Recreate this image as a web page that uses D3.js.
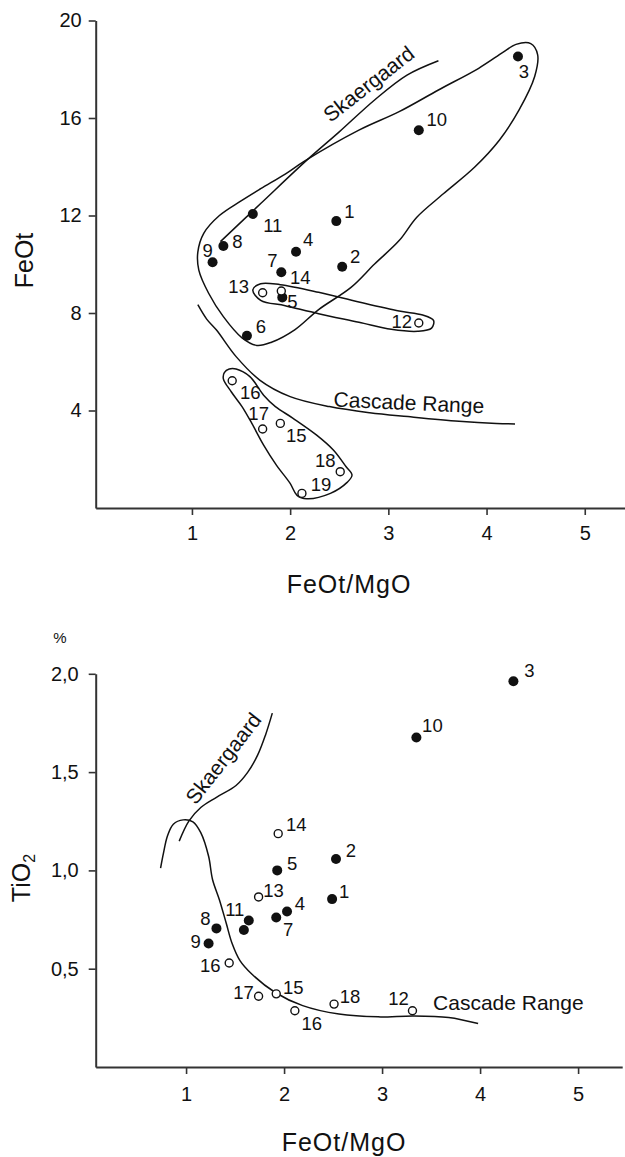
<!DOCTYPE html>
<html>
<head>
<meta charset="utf-8">
<script src="https://cdn.jsdelivr.net/npm/d3@7"></script>
<style>
  body { margin: 0; background: #fff; }
  svg text { font-family: "Liberation Sans", Arial, Helvetica, sans-serif; fill: #111; }
</style>
</head>
<body>
<svg id="fig" width="625" height="1157"></svg>
<script>
// ---------- Upper diagram: FeOt vs FeOt/MgO ----------
const feoIds    = ["1","2","3","4","5","6","7","8","9","10","11","12","13","14","15","16","17","18","19"];
const feoRatio  = [2.47, 2.53, 4.32, 2.06, 1.92, 1.56, 1.91, 1.32, 1.21, 3.31, 1.62, 3.31, 1.72, 1.91, 1.90, 1.41, 1.72, 2.51, 2.12];
const feoTotal  = [11.77, 9.90, 18.52, 10.51, 8.64, 7.07, 9.67, 10.75, 10.08, 15.50, 12.06, 7.59, 8.83, 8.90, 3.47, 5.22, 3.24, 1.49, 0.60];
const feoFilled = [1,1,1,1,1,1,1,1,1,1,1,0,0,0,0,0,0,0,0];

const feoTicksX = [1, 2, 3, 4, 5];
const feoTicksY = [4, 8, 12, 16, 20];

// trend lines and field outlines, [FeOt/MgO, FeOt]
const feoSkaergaard = [[1.29,10.93],[1.70,12.49],[2.17,14.27],[2.50,15.43],[2.86,16.74],[3.19,17.76],[3.51,18.35]];
const feoCascade = [[1.06,8.34],[1.15,7.75],[1.25,7.30],[1.45,6.21],[1.69,5.25],[2.00,4.57],[2.40,4.16],[2.81,3.91],[3.20,3.75],[3.72,3.56],[4.10,3.47],[4.29,3.45]];
const fieldMain = [[2.15,14.24],[2.70,15.50],[3.11,16.26],[3.51,17.15],[3.92,18.04],[4.17,18.70],[4.30,19.02],[4.45,19.05],[4.52,18.60],[4.49,17.70],[4.33,16.32],[4.13,15.09],[3.88,13.99],[3.56,12.89],[3.29,11.93],[3.11,10.97],[2.86,10.01],[2.62,9.05],[2.29,8.14],[2.05,7.32],[1.81,6.80],[1.66,6.67],[1.51,6.98],[1.32,7.85],[1.17,8.81],[1.07,9.76],[1.06,10.50],[1.12,11.27],[1.28,12.00],[1.50,12.60],[1.70,13.10],[1.95,13.70]];
const fieldInner = [[1.62,8.95],[1.70,9.20],[1.90,9.16],[2.29,8.85],[2.70,8.45],[3.11,8.08],[3.35,7.92],[3.46,7.70],[3.44,7.38],[3.30,7.25],[3.03,7.33],[2.70,7.62],[2.29,7.97],[1.95,8.30],[1.70,8.52]];
const fieldLow = [[1.33,5.55],[1.38,5.70],[1.45,5.70],[1.59,5.39],[1.73,4.63],[1.85,4.16],[2.03,3.68],[2.27,2.99],[2.44,2.38],[2.57,1.69],[2.63,1.35],[2.58,1.05],[2.41,0.60],[2.17,0.38],[2.07,0.52],[2.00,1.01],[1.86,1.76],[1.73,2.58],[1.61,3.47],[1.51,4.16],[1.40,4.77],[1.32,5.30]];

// ---------- Lower diagram: TiO2 vs FeOt/MgO ----------
const tiIds    = ["1","2","3","4","5","","7","8","9","10","11","12","13","14","15","16","17","18","16"];
const tiRatio  = [2.49, 2.53, 4.34, 2.03, 1.93, 1.59, 1.92, 1.31, 1.23, 3.35, 1.64, 3.31, 1.74, 1.94, 1.92, 1.44, 1.74, 2.51, 2.11];
const tiValue  = [0.854, 1.058, 1.962, 0.791, 1.000, 0.697, 0.760, 0.705, 0.628, 1.676, 0.745, 0.286, 0.865, 1.187, 0.372, 0.529, 0.360, 0.320, 0.286];
const tiFilled = [1,1,1,1,1,1,1,1,1,1,1,0,0,0,0,0,0,0,0];

const tiTicksX = [1, 2, 3, 4, 5];
const tiTicksY = [0.5, 1.0, 1.5, 2.0];
const tiTickLabels = ["0,5", "1,0", "1,5", "2,0"];

const tiSkaergaard = [[0.93,1.149],[1.03,1.252],[1.15,1.320],[1.31,1.372],[1.51,1.432],[1.63,1.50],[1.73,1.586],[1.81,1.688],[1.88,1.80]];
const tiCascade = [[0.74,1.012],[0.77,1.089],[0.81,1.175],[0.87,1.235],[0.97,1.257],[1.07,1.247],[1.15,1.192],[1.23,1.072],[1.27,0.954],[1.34,0.851],[1.41,0.731],[1.47,0.628],[1.55,0.541],[1.67,0.473],[1.91,0.379],[2.19,0.312],[2.56,0.269],[2.96,0.255],[3.32,0.260],[3.68,0.252],[3.98,0.221]];

// label placement around each symbol (px)
const feoLabelOffset = [[13,-10],[13,-10],[6,15],[12,-12],[10,4],[14,-9],[-9,-12],[14,-5],[-5,-12],[18,-11],[20,11],[-17,-2],[-24,-6],[19,-14],[16,12],[18,12],[-4,-16],[-15,-11],[19,-9]];
const tiLabelOffset  = [[12,-8],[15,-9],[16,-11],[13,-8],[15,-7],[0,0],[12,12],[-11,-10],[-13,-2],[16,-12],[-14,-11],[-14,-12],[15,-7],[18,-9],[17,-7],[-19,2],[-15,-4],[16,-8],[17,13]];

const svg = d3.select("#fig");
svg.append("rect").attr("width", 625).attr("height", 1157).attr("fill", "#fff");

const INK = "#111";

function drawPanel(cfg) {
  const g = svg.append("g");
  const x = d3.scaleLinear().domain(cfg.xDomain).range(cfg.xRange);
  const y = d3.scaleLinear().domain(cfg.yDomain).range(cfg.yRange);

  // axes
  const ax = g.append("g").attr("transform", `translate(0,${cfg.yRange[0]})`)
    .call(d3.axisBottom(x).tickValues(cfg.xTicks).tickSize(7).tickSizeOuter(0).tickFormat(d3.format("d")));
  ax.selectAll("text").attr("y", cfg.xLabelY).attr("font-size", 20);
  const ay = g.append("g").attr("transform", `translate(${cfg.xRange[0]},0)`)
    .call(d3.axisLeft(y).tickValues(cfg.yTicks).tickSize(7).tickSizeOuter(0).tickFormat(cfg.yFormat));
  ay.selectAll("text").attr("x", cfg.yLabelX).attr("font-size", 20);
  g.selectAll(".domain").attr("stroke", "#333").attr("stroke-width", 2);
  g.selectAll(".tick line").attr("stroke", "#333").attr("stroke-width", 1.6);
  g.selectAll(".tick text").attr("fill", INK).style("font-family", '"Liberation Sans", Arial, sans-serif');

  const lineOpen = d3.line().x(d => x(d[0])).y(d => y(d[1])).curve(d3.curveCatmullRom.alpha(0.5));
  cfg.curves.forEach(c => {
    g.append("path").attr("d", lineOpen(c)).attr("fill", "none")
      .attr("stroke", INK).attr("stroke-width", 1.5).attr("stroke-linejoin", "round");
  });
  const closed = d3.line().x(d => x(d[0])).y(d => y(d[1])).curve(d3.curveCatmullRomClosed.alpha(0.5));
  (cfg.fields || []).forEach(c => {
    g.append("path").attr("d", closed(c)).attr("fill", "none")
      .attr("stroke", INK).attr("stroke-width", 1.5);
  });

  // annotations
  cfg.notes.forEach(n => {
    g.append("text")
      .attr("transform", `translate(${x(n.at[0])},${y(n.at[1])}) rotate(${n.rot})`)
      .attr("text-anchor", n.anchor).attr("font-size", 21).attr("dy", n.dy)
      .text(n.text);
  });

  // samples
  const pts = cfg.ids.map((id, i) => ({ id, xv: cfg.xs[i], yv: cfg.ys[i], filled: cfg.filled[i], off: cfg.offsets[i] }));
  g.selectAll("circle.s").data(pts).join("circle")
    .attr("class", "s")
    .attr("cx", d => x(d.xv)).attr("cy", d => y(d.yv))
    .attr("r", d => d.filled ? 5 : 4)
    .attr("fill", d => d.filled ? INK : "#fff")
    .attr("stroke", INK).attr("stroke-width", d => d.filled ? 0 : 1.4);
  g.selectAll("text.lab").data(pts.filter(d => d.id !== "")).join("text")
    .attr("class", "lab")
    .attr("x", d => x(d.xv) + d.off[0]).attr("y", d => y(d.yv) + d.off[1])
    .attr("dy", "0.36em").attr("text-anchor", "middle").attr("font-size", 18.5)
    .text(d => d.id);

  // axis title
  g.append("text").attr("x", cfg.xTitle[0]).attr("y", cfg.xTitle[1])
    .attr("text-anchor", "middle").attr("font-size", 25).attr("letter-spacing", 1)
    .text("FeOt/MgO");
  return { g, x, y };
}

// upper panel
const upperPanel = drawPanel({
  xDomain: [0.02, 5.42], xRange: [95.7, 626],
  yDomain: [0, 20], yRange: [508, 20.5],
  xTicks: feoTicksX, yTicks: feoTicksY,
  yFormat: d3.format("d"), xLabelY: 18, yLabelX: -14,
  curves: [feoSkaergaard, feoCascade],
  fields: [fieldMain, fieldInner, fieldLow],
  notes: [
    { text: "Skaergaard", at: [2.80, 17.40], rot: -38, anchor: "middle", dy: "0.35em" },
    { text: "Cascade Range", at: [2.44, 4.16], rot: 2.5, anchor: "start", dy: "0" }
  ],
  ids: feoIds, xs: feoRatio, ys: feoTotal, filled: feoFilled, offsets: feoLabelOffset,
  xTitle: [349, 593]
});
upperPanel.g.append("text").attr("transform", "translate(33,260.5) rotate(-90)")
  .attr("text-anchor", "middle").attr("font-size", 25).text("FeOt");

// lower panel
const lowerPanel = drawPanel({
  xDomain: [0.078, 5.45], xRange: [95.7, 622.2],
  yDomain: [0, 2.0], yRange: [1067, 673.8],
  xTicks: tiTicksX, yTicks: tiTicksY,
  yFormat: (d, i) => tiTickLabels[i], xLabelY: 20, yLabelX: -17,
  curves: [tiSkaergaard, tiCascade],
  fields: [],
  notes: [
    { text: "Skaergaard", at: [1.38, 1.57], rot: -52, anchor: "middle", dy: "0.35em" },
    { text: "Cascade Range", at: [3.52, 0.29], rot: 0, anchor: "start", dy: "0" }
  ],
  ids: tiIds, xs: tiRatio, ys: tiValue, filled: tiFilled, offsets: tiLabelOffset,
  xTitle: [344, 1151]
});
const tiTitle = lowerPanel.g.append("text").attr("transform", "translate(30,878) rotate(-90)")
  .attr("text-anchor", "middle").attr("font-size", 25);
tiTitle.append("tspan").text("TiO");
tiTitle.append("tspan").attr("font-size", 16).attr("dy", 5).text("2");
lowerPanel.g.append("text").attr("x", 60).attr("y", 643).attr("text-anchor", "middle")
  .attr("font-size", 15).text("%");
</script>
</body>
</html>
